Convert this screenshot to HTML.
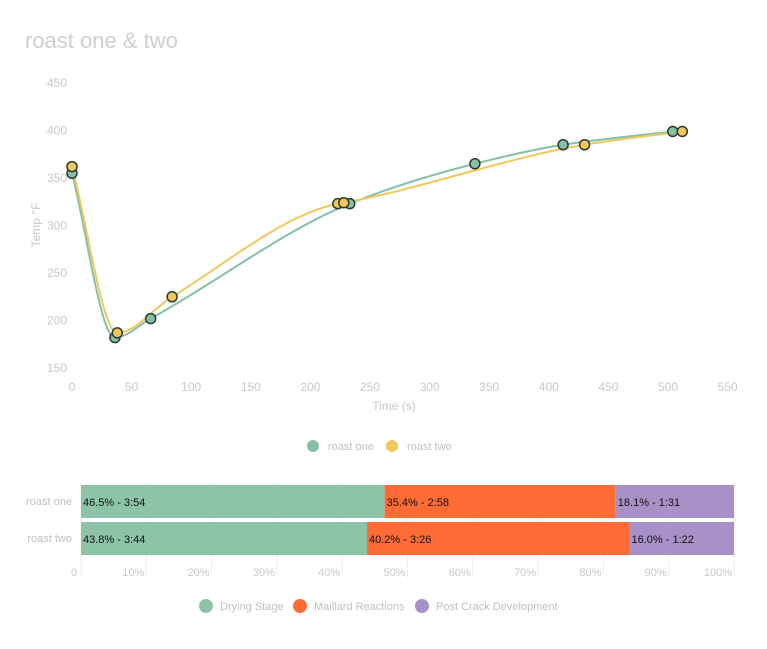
<!DOCTYPE html>
<html><head><meta charset="utf-8">
<style>
body{margin:0;background:#fff;font-family:"Liberation Sans",sans-serif;}
svg text{font-family:"Liberation Sans",sans-serif;}
</style></head>
<body>
<svg width="767" height="644" viewBox="0 0 767 644" id="svg">
<text x="25" y="48" font-size="22" fill="#cfcfcf">roast one &amp; two</text>
<g id="line"></g>
<g id="bars"></g>
</svg>
<script>
const xTicks=[0,50,100,150,200,250,300,350,400,450,500,550];
const yTicks=[150,200,250,300,350,400,450];
const oneT=[0,36,66,233,338,412,504];
const oneV=[355,182,202,323,365,385,399];
const twoT=[0,38,84,223,228,430,512];
const twoV=[362,187,225,323,324,385,399];
const barCats=["roast one","roast two"];
const drying=[46.5,43.8];
const maillard=[35.4,40.2];
const postCrack=[18.1,16.0];
const barLabels=[["46.5% - 3:54","35.4% - 2:58","18.1% - 1:31"],["43.8% - 3:44","40.2% - 3:26","16.0% - 1:22"]];
const pctTicks=[0,10,20,30,40,50,60,70,80,90,100];

const NS="http://www.w3.org/2000/svg";
function mk(t,a,p){const e=document.createElementNS(NS,t);for(const k in a)e.setAttribute(k,a[k]);p.appendChild(e);return e;}
const X=v=>72+v*(596/500);
const Y=v=>368-(v-150)*0.95;
const L=document.getElementById('line');
xTicks.forEach(t=>{const e=mk('text',{x:X(t),y:391,'font-size':12,fill:'#c8c8c8','text-anchor':'middle'},L);e.textContent=t;

});
yTicks.forEach(t=>{const e=mk('text',{x:67,y:Y(t)+4,'font-size':12,fill:'#c8c8c8','text-anchor':'end'},L);e.textContent=t;

});
let e=mk('text',{x:394,y:410,'font-size':12,fill:'#c8c8c8','text-anchor':'middle'},L);e.textContent='Time (s)';


e=mk('text',{x:0,y:0,'font-size':12,fill:'#c8c8c8','text-anchor':'middle',transform:'translate(40,225) rotate(-90)'},L);e.textContent='Temp °F';


function curve(ts,vs){const p=ts.map((t,i)=>[X(t),Y(vs[i])]);const n=p.length;
const dx=[],s=[];for(let i=0;i<n-1;i++){dx.push(p[i+1][0]-p[i][0]);s.push((p[i+1][1]-p[i][1])/dx[i]);}
const m=[s[0]];for(let i=1;i<n-1;i++){if(s[i-1]*s[i]<=0)m.push(0);else{const w1=2*dx[i]+dx[i-1],w2=dx[i]+2*dx[i-1];m.push((w1+w2)/(w1/s[i-1]+w2/s[i]));}}m.push(s[n-2]);
let d='M'+p[0];for(let i=0;i<n-1;i++){const h=dx[i]/3;d+=' C'+(p[i][0]+h)+','+(p[i][1]+m[i]*h)+' '+(p[i+1][0]-h)+','+(p[i+1][1]-m[i+1]*h)+' '+p[i+1];}return d;}
[[oneT,oneV,'#86c0a5','roast-one'],[twoT,twoV,'#f0c85e','roast-two']].forEach(([ts,vs,c,n])=>{
const pth=mk('path',{d:curve(ts,vs),fill:'none',stroke:c,'stroke-width':2},L);

});
[[oneT,oneV,'#86c0a5','roast-one'],[twoT,twoV,'#f0c85e','roast-two']].forEach(([ts,vs,c,n])=>{
ts.forEach((t,i)=>{const ci=mk('circle',{cx:X(t),cy:Y(vs[i]),r:5,fill:c,stroke:'#2b3a33','stroke-width':1.5},L);

});});
[[313,'#86c0a5','roast one'],[392,'#f0c85e','roast two']].forEach(([x,c,t])=>{
const ci=mk('circle',{cx:x,cy:446,r:6,fill:c},L);


const tx=mk('text',{x:x+15,y:450,'font-size':11,fill:'#c0c0c0'},L);tx.textContent=t;

});

const B=document.getElementById('bars');
const BX=v=>81+v*6.53;
pctTicks.forEach(t=>{const l=mk('line',{x1:BX(t),x2:BX(t),y1:483,y2:578,stroke:'#eee'},B);


const tx=mk('text',{x:t===0?74:BX(t)-2,y:576,'font-size':11,fill:'#c8c8c8','text-anchor':t===0?'middle':'end'},B);tx.textContent=t===0?'0':t+'%';

});
const cols=['#8dc4a8','#ff6b35','#a990c6'];
barCats.forEach((c,i)=>{const y=485+i*37,h=33;
const lt=mk('text',{x:72,y:y+20,'font-size':11,fill:'#c0c0c0','text-anchor':'end'},B);lt.textContent=c;


const vals=[drying[i],maillard[i],postCrack[i]];let acc=0;
vals.forEach((v,j)=>{const r=mk('rect',{x:BX(acc),y:y,width:BX(acc+v)-BX(acc),height:h,fill:cols[j]},B);


const tx=mk('text',{x:BX(acc)+2,y:y+21,'font-size':11,fill:'#111'},B);tx.textContent=barLabels[i][j];


acc+=v;});});
[[206,'#8dc4a8','Drying Stage'],[300,'#ff6b35','Maillard Reactions'],[422,'#a990c6','Post Crack Development']].forEach(([x,c,t])=>{
const ci=mk('circle',{cx:x,cy:606,r:7,fill:c},B);


const tx=mk('text',{x:x+14,y:610,'font-size':11,fill:'#c0c0c0'},B);tx.textContent=t;

});
</script>
</body></html>
